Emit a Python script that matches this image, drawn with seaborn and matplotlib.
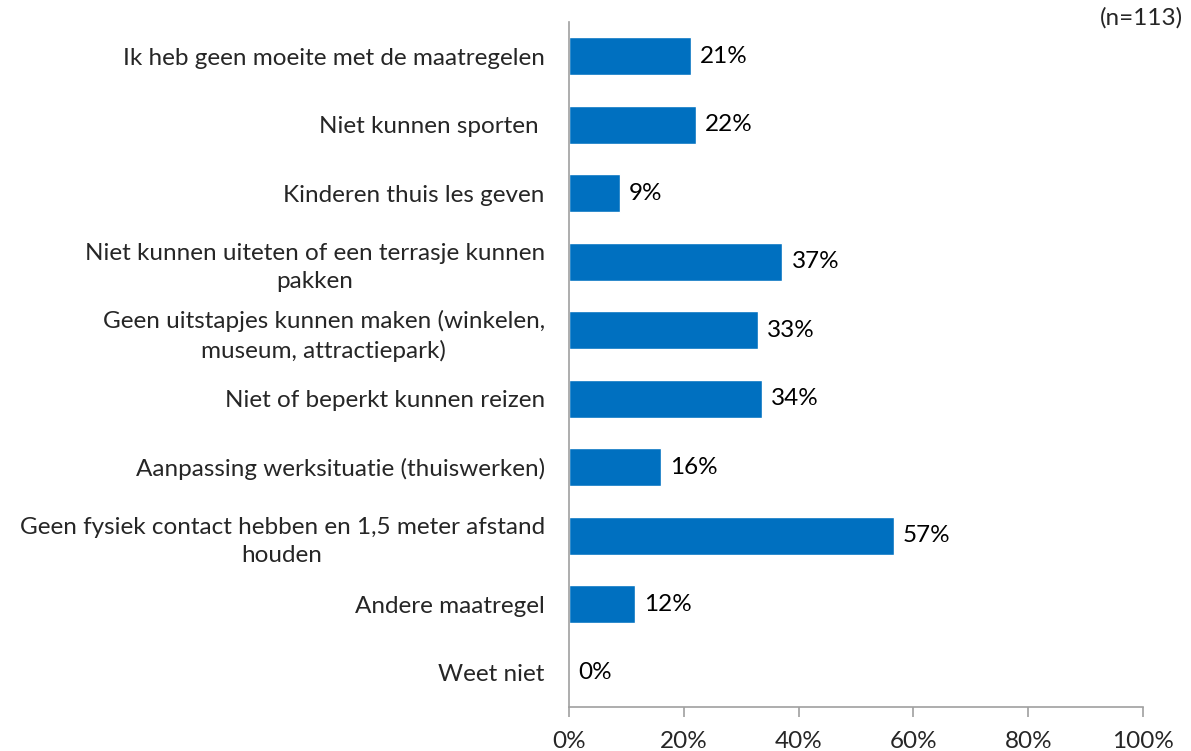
import matplotlib
matplotlib.use('Agg')
import matplotlib.pyplot as plt
import seaborn as sns
import pandas as pd
from matplotlib.ticker import PercentFormatter

categories = [
    'Ik heb geen moeite met de maatregelen',
    'Niet kunnen sporten ',
    'Kinderen thuis les geven',
    'Niet kunnen uiteten of een terrasje kunnen\npakken',
    'Geen uitstapjes kunnen maken (winkelen,\nmuseum, attractiepark)',
    'Niet of beperkt kunnen reizen',
    'Aanpassing werksituatie (thuiswerken)',
    'Geen fysiek contact hebben en 1,5 meter afstand\nhouden',
    'Andere maatregel',
    'Weet niet',
]
values = [21.2, 22.1, 8.9, 37.2, 32.9, 33.6, 16.0, 56.6, 11.5, 0.0]
x_ticks = [0, 20, 40, 60, 80, 100]

df = pd.DataFrame({'category': categories, 'value': values})

sns.set_style('white')
plt.rcParams['font.family'] = ['Lato', 'DejaVu Sans']
fs = 17.5

fig = plt.figure(figsize=(11.91, 7.51), dpi=100)
ax = fig.add_axes([0.4777, 0.0586, 0.4820, 0.9121])

sns.barplot(data=df, x='value', y='category', orient='h', color='#0070C0',
            width=0.55, saturation=1, ax=ax)

for i, v in enumerate(values):
    ax.text(v + 1.6, i, f'{v:.0f}%', va='center', ha='left', fontsize=fs, color='black')

ax.set_xlim(0, 100)
ax.set_xticks(x_ticks)
ax.xaxis.set_major_formatter(PercentFormatter(decimals=0))
ax.set_xlabel('')
ax.set_ylabel('')

for side in ['top', 'right']:
    ax.spines[side].set_visible(False)
for side in ['left', 'bottom']:
    ax.spines[side].set_color('#A0A0A0')
    ax.spines[side].set_linewidth(1.2)

ax.tick_params(axis='x', bottom=True, direction='out', length=7, width=1.2,
               color='#A0A0A0', labelsize=fs, pad=10)
ax.tick_params(axis='y', left=False, labelsize=fs, pad=14)
for lbl in ax.get_yticklabels():
    lbl.set_multialignment('center')
    lbl.set_linespacing(1.4)

fig.text(0.993, 0.99, '(n=113)', ha='right', va='top', fontsize=fs)

fig.savefig('out.png', dpi=100)
